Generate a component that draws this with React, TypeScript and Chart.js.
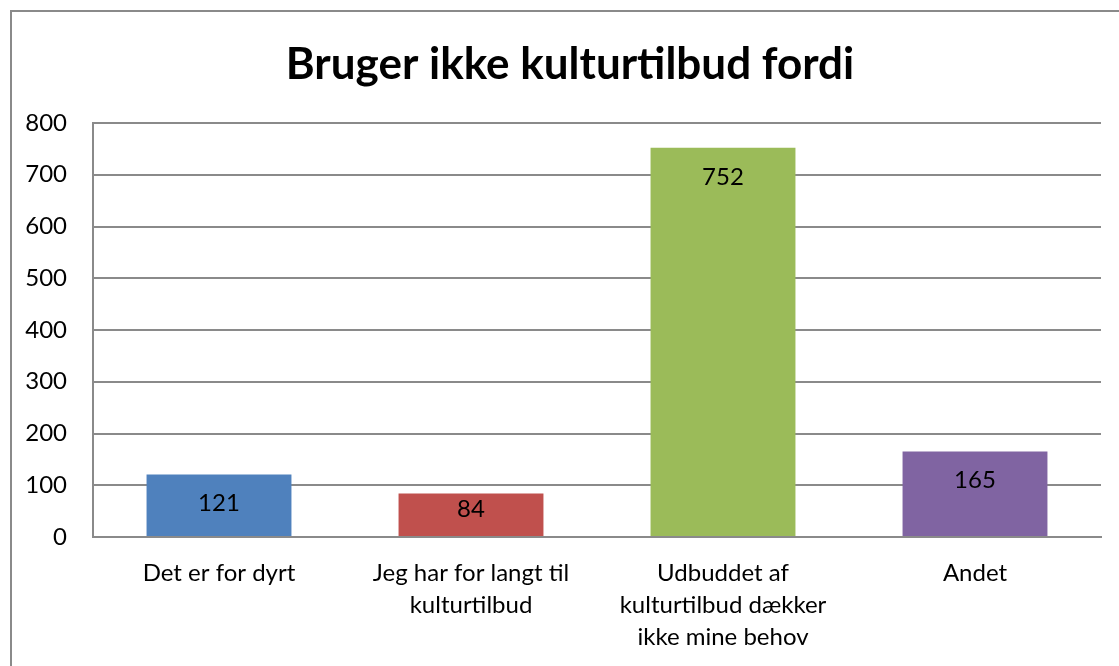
import React, { useEffect, useRef } from "react";
import { Chart, registerables } from "chart.js";

Chart.register(...registerables);

const TITLE = "Bruger ikke kulturtilbud fordi";
const CATEGORIES: string[][] = [
  ["Det er for dyrt"],
  ["Jeg har for langt til", "kulturtilbud"],
  ["Udbuddet af", "kulturtilbud dækker", "ikke mine behov"],
  ["Andet"],
];
const VALUES = [121, 84, 752, 165];
const COLORS = ["#4F81BD", "#C0504D", "#9BBB59", "#8064A2"];
const Y_MIN = 0;
const Y_MAX = 800;
const Y_STEP = 100;

const FONT = "Lato, 'Open Sans', sans-serif";

const labelsPlugin = {
  id: "extras",
  afterDatasetsDraw(chart: any) {
    const ctx = chart.ctx;
    const meta = chart.getDatasetMeta(0);
    ctx.save();
    ctx.fillStyle = "#000";
    ctx.font = `24px ${FONT}`;
    ctx.textAlign = "center";
    ctx.textBaseline = "middle";
    meta.data.forEach((bar: any, i: number) => {
      const top = bar.y;
      const bottom = bar.base;
      const y = Math.min(top + 29, bottom - 27);
      ctx.fillText(String(VALUES[i]), bar.x, y);
    });
    ctx.restore();
  },
  afterDraw(chart: any) {
    const ctx = chart.ctx;
    ctx.save();
    ctx.fillStyle = "#000";
    ctx.font = `bold 44px ${FONT}`;
    ctx.textAlign = "center";
    ctx.textBaseline = "middle";
    ctx.fillText(TITLE, 570, 65);
    // outer frame
    ctx.strokeStyle = "#8a8a8a";
    ctx.lineWidth = 2;
    ctx.beginPath();
    ctx.moveTo(11, 700);
    ctx.lineTo(11, 11);
    ctx.lineTo(1130, 11);
    ctx.stroke();
    ctx.restore();
  },
};

export default function App() {
  const ref = useRef<HTMLCanvasElement>(null);
  useEffect(() => {
    const chart = new Chart(ref.current!, {
      type: "bar",
      data: {
        labels: CATEGORIES,
        datasets: [
          {
            data: VALUES,
            backgroundColor: COLORS,
            borderWidth: 0,
            categoryPercentage: 1,
            barPercentage: 0.575,
          },
        ],
      },
      options: {
        animation: false,
        responsive: false,
        layout: { padding: { top: 123, right: 18, left: 0, bottom: 0 } },
        plugins: {
          legend: { display: false },
          title: { display: false },
          tooltip: { enabled: false },
        },
        scales: {
          x: {
            grid: { display: false, drawTicks: false },
            border: { color: "#8a8a8a", width: 2 },
            ticks: {
              color: "#000",
              font: { family: FONT, size: 24, lineHeight: 1.333 },
              padding: 20,
              maxRotation: 0,
              autoSkip: false,
            },
            afterFit(scale: any) {
              scale.height = 129;
            },
          },
          y: {
            min: Y_MIN,
            max: Y_MAX,
            grid: { color: "#8a8a8a", lineWidth: 2, drawTicks: false },
            border: { color: "#8a8a8a", width: 2 },
            ticks: {
              stepSize: Y_STEP,
              color: "#000",
              font: { family: FONT, size: 24 },
              padding: 26,
            },
            afterFit(scale: any) {
              scale.width = 93;
            },
          },
        },
      },
      plugins: [labelsPlugin],
    });
    return () => chart.destroy();
  }, []);
  return (
    <div style={{ position: "absolute", left: 0, top: 0, width: 1119, height: 666, background: "#fff" }}>
      <canvas ref={ref} width={1119} height={666} style={{ display: "block" }} />
    </div>
  );
}
